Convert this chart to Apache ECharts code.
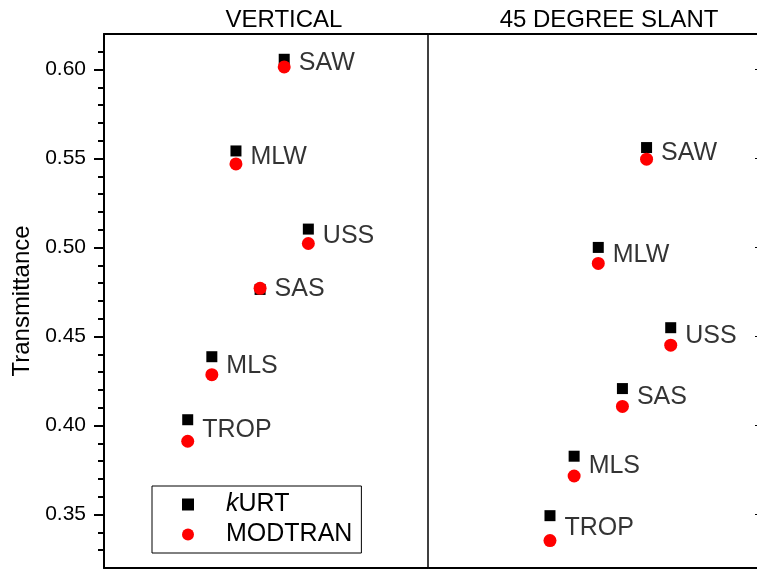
<!DOCTYPE html>
<html>
<head>
<meta charset="utf-8">
<script src="https://cdn.jsdelivr.net/npm/echarts@6/dist/echarts.min.js"></script>
<style>
  html, body { margin: 0; padding: 0; background: #fff; overflow: hidden; }
  #chart { width: 757px; height: 569px; }
</style>
</head>
<body>
<div id="chart"></div>
<script>
// model atmospheres, in the order they sit along each panel
var atmospheres = ['TROP', 'MLS', 'MLW', 'SAS', 'SAW', 'USS'];
var position = [1, 2, 3, 4, 5, 6];

// vertical path
var kurtVertical = [0.4033, 0.4387, 0.5543, 0.4765, 0.6058, 0.5104];
var modtranVertical = [0.3912, 0.4286, 0.5470, 0.4771, 0.6015, 0.5023];

// 45 degree slant path
var kurtSlant = [0.3494, 0.3828, 0.5001, 0.4208, 0.5562, 0.4550];
var modtranSlant = [0.3354, 0.3717, 0.4911, 0.4108, 0.5497, 0.4452];

// y axis ticks
var majorTicks = [0.35, 0.40, 0.45, 0.50, 0.55, 0.60];
var minorTicks = [0.33, 0.34, 0.36, 0.37, 0.38, 0.39, 0.41, 0.42, 0.43, 0.44,
  0.46, 0.47, 0.48, 0.49, 0.51, 0.52, 0.53, 0.54, 0.56, 0.57, 0.58, 0.59, 0.61];

var FONT = '"Liberation Sans", Arial, sans-serif';

function points(ys) {
  return position.map(function (x, i) { return [x, ys[i]]; });
}
// label sits half way between the two markers
function labelPoints(a, b) {
  return position.map(function (x, i) {
    return { value: [x, (a[i] + b[i]) / 2], name: atmospheres[i] };
  });
}

var chart = echarts.init(document.getElementById('chart'));

var frameLine = { show: true, onZero: false, lineStyle: { color: '#000', width: 2 } };
function frameX(grid, pos, min, max) {
  return {
    gridIndex: grid, type: 'value', position: pos, min: min, max: max,
    axisLine: frameLine,
    axisTick: { show: false }, axisLabel: { show: false }, splitLine: { show: false }
  };
}

var labelStyle = {
  show: true, position: 'right', distance: 14,
  formatter: '{b}', color: '#000', fontSize: 25, fontFamily: FONT
};

var option = {
  animation: false,
  title: [
    { text: 'VERTICAL', left: 279, top: 3, textAlign: 'center',
      textStyle: { fontSize: 24, fontWeight: 'normal', color: '#000', fontFamily: FONT } },
    { text: '45 DEGREE SLANT', left: 604, top: 3, textAlign: 'center',
      textStyle: { fontSize: 24, fontWeight: 'normal', color: '#000', fontFamily: FONT } }
  ],
  legend: {
    data: ['kURT', 'MODTRAN'],
    orient: 'vertical',
    left: 152, top: 486,
    padding: [6, 9, 6, 30],
    itemGap: 5,
    itemWidth: 12, itemHeight: 12,
    borderColor: '#000', borderWidth: 1,
    selectedMode: false,
    formatter: function (name) { return name === 'kURT' ? '{i|k}URT' : name; },
    textStyle: {
      color: '#000', fontSize: 25, fontFamily: FONT, padding: [0, 0, 0, 27],
      rich: { i: { fontStyle: 'italic', fontSize: 25, fontFamily: FONT, color: '#000' } }
    }
  },
  grid: [
    { left: 104, top: 34, width: 324, height: 534, outerBoundsMode: 'none' },
    // right edge of the frame runs just past the picture
    { left: 429, top: 34, width: 340, height: 534, outerBoundsMode: 'none' }
  ],
  xAxis: [
    frameX(0, 'bottom', -2.47, 10.96),
    frameX(0, 'top', -2.47, 10.96),
    frameX(1, 'bottom', -4.01, 10.07),
    frameX(1, 'top', -4.01, 10.07)
  ],
  yAxis: [
    {
      gridIndex: 0, type: 'value', position: 'left', min: 0.32, max: 0.62,
      name: 'Transmittance', nameLocation: 'middle', nameGap: 70,
      nameTextStyle: { color: '#000', fontSize: 24, fontFamily: FONT },
      axisLine: frameLine,
      axisTick: { show: true, inside: false, length: 10, customValues: majorTicks,
        lineStyle: { color: '#000', width: 2 } },
      axisLabel: { show: true, margin: 18, customValues: majorTicks, color: '#000',
        fontSize: 21, fontFamily: FONT,
        formatter: function (v) { return v.toFixed(2); } },
      splitLine: { show: false }
    },
    {
      // minor ticks
      gridIndex: 0, type: 'value', position: 'left', min: 0.32, max: 0.62,
      axisLine: { show: false, onZero: false },
      axisTick: { show: true, inside: false, length: 6, customValues: minorTicks,
        lineStyle: { color: '#000', width: 2 } },
      axisLabel: { show: false }, splitLine: { show: false }
    },
    {
      // divider between panels
      gridIndex: 0, type: 'value', position: 'right', min: 0.32, max: 0.62,
      axisLine: { show: true, onZero: false, lineStyle: { color: '#000', width: 1.5 } },
      axisTick: { show: false }, axisLabel: { show: false }, splitLine: { show: false }
    },
    {
      gridIndex: 1, type: 'value', position: 'right', min: 0.32, max: 0.62,
      axisLine: frameLine,
      axisTick: { show: true, inside: true, length: 14, customValues: majorTicks,
        lineStyle: { color: '#000', width: 1 } },
      axisLabel: { show: false }, splitLine: { show: false }
    }
  ],
  series: [
    { name: 'kURT', type: 'scatter', xAxisIndex: 0, yAxisIndex: 0,
      symbol: 'rect', symbolSize: 11, itemStyle: { color: '#000', opacity: 1 },
      data: points(kurtVertical) },
    { name: 'MODTRAN', type: 'scatter', xAxisIndex: 0, yAxisIndex: 0,
      symbol: 'circle', symbolSize: 13, itemStyle: { color: '#ff0000', opacity: 1 },
      data: points(modtranVertical) },
    { name: 'labels-v', type: 'scatter', xAxisIndex: 0, yAxisIndex: 0, silent: true,
      symbolSize: 1, itemStyle: { color: 'rgba(0,0,0,0)' }, label: labelStyle,
      data: labelPoints(kurtVertical, modtranVertical) },
    { name: 'kURT', type: 'scatter', xAxisIndex: 2, yAxisIndex: 3,
      symbol: 'rect', symbolSize: 11, itemStyle: { color: '#000', opacity: 1 },
      data: points(kurtSlant) },
    { name: 'MODTRAN', type: 'scatter', xAxisIndex: 2, yAxisIndex: 3,
      symbol: 'circle', symbolSize: 13, itemStyle: { color: '#ff0000', opacity: 1 },
      data: points(modtranSlant) },
    { name: 'labels-s', type: 'scatter', xAxisIndex: 2, yAxisIndex: 3, silent: true,
      symbolSize: 1, itemStyle: { color: 'rgba(0,0,0,0)' }, label: labelStyle,
      data: labelPoints(kurtSlant, modtranSlant) }
  ]
};

chart.setOption(option);
window.addEventListener('resize', function () { chart.resize(); });
</script>
</body>
</html>
